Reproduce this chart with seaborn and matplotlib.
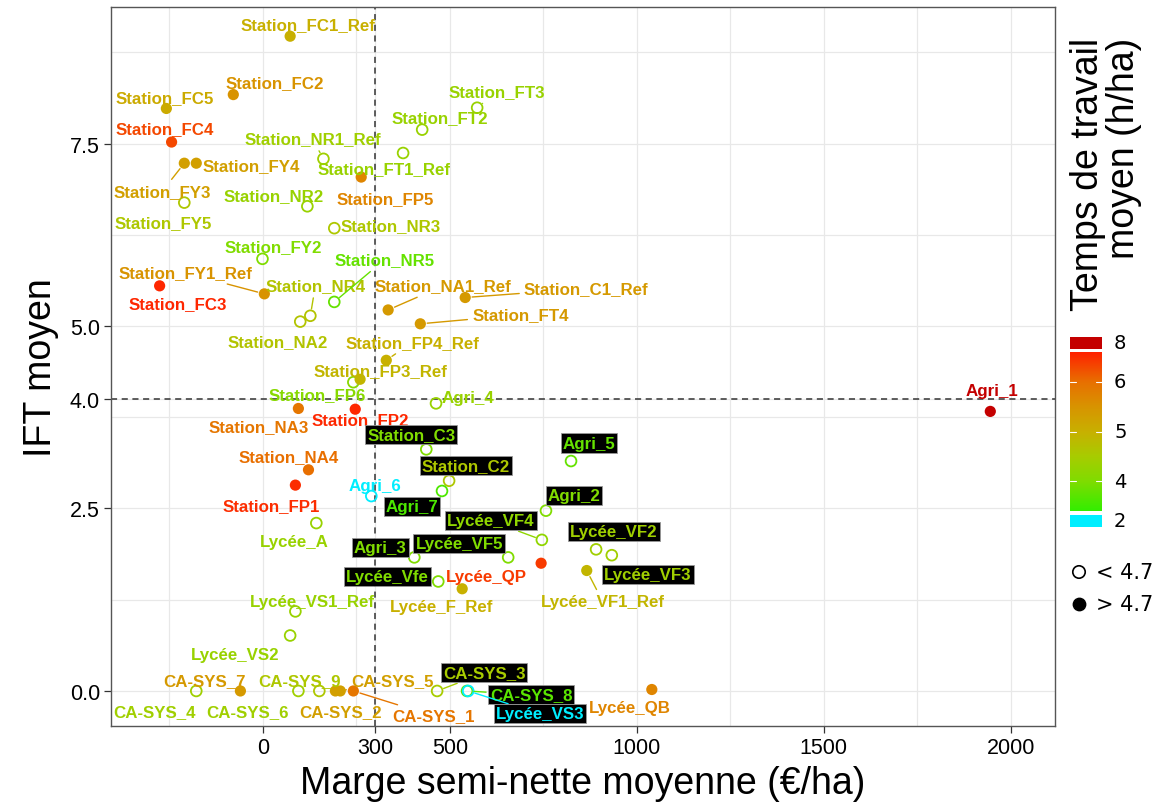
import numpy as np
import pandas as pd
import matplotlib
matplotlib.use("Agg")
import matplotlib.pyplot as plt
import seaborn as sns
from matplotlib.colors import LinearSegmentedColormap, Normalize
from matplotlib.patches import Rectangle

# ---------------- data ----------------
names = ["Station_FC1_Ref", "Station_FC2", "Station_FC5", "Station_FC4", "Station_FY3",
         "Station_FY4", "Station_NR1_Ref", "Station_FT1_Ref", "Station_FT2", "Station_FT3",
         "Station_FP5", "Station_FY5", "Station_NR2", "Station_NR3", "Station_FY2",
         "Station_FY1_Ref", "Station_FC3", "Station_NR4", "Station_NA2", "Station_NR5",
         "Station_NA1_Ref", "Station_C1_Ref", "Station_FT4", "Station_FP4_Ref", "Station_FP3_Ref",
         "Station_FP6", "Agri_4", "Station_NA3", "Station_FP2", "Station_C3",
         "Station_NA4", "Station_C2", "Station_FP1", "Agri_6", "Agri_7",
         "Lycée_A", "Lycée_VF4", "Agri_2", "Agri_5", "Lycée_VF2",
         "Lycée_VF3", "Lycée_VF1_Ref", "Lycée_QP", "Agri_3", "Lycée_VF5",
         "Lycée_Vfe", "Lycée_F_Ref", "Lycée_VS1_Ref", "Lycée_VS2", "CA-SYS_4",
         "CA-SYS_7", "CA-SYS_6", "CA-SYS_9", "CA-SYS_2", "CA-SYS_5",
         "CA-SYS_1", "CA-SYS_3", "CA-SYS_8", "Lycée_VS3", "Lycée_QB",
         "Agri_1"]
marge = [73, -79, -258, -244, -210,
         -178, 162, 375, 426, 573,
         263, -210, 119, 191, -1,
         4, -276, 127, 100, 191,
         335, 541, 421, 330, 260,
         242, 463, 95, 247, 437,
         122, 498, 87, 290, 479,
         143, 746, 757, 824, 891,
         933, 866, 744, 405, 656,
         469, 533, 87, 73, -178,
         -60, 95, 151, 194, 207,
         242, 466, 546, 549, 1040,
         1945]
ift = [8.97, 8.17, 7.98, 7.52, 7.23,
       7.23, 7.29, 7.37, 7.69, 7.99,
       7.04, 6.69, 6.64, 6.34, 5.92,
       5.44, 5.55, 5.14, 5.06, 5.33,
       5.22, 5.39, 5.03, 4.53, 4.27,
       4.23, 3.94, 3.87, 3.86, 3.31,
       3.03, 2.88, 2.82, 2.67, 2.74,
       2.30, 2.07, 2.47, 3.15, 1.94,
       1.86, 1.65, 1.75, 1.83, 1.83,
       1.50, 1.40, 1.09, 0.76, 0.0,
       0.0, 0.0, 0.0, 0.0, 0.0,
       0.0, 0.0, 0.0, 0.0, 0.02,
       3.83]
temps = [5.0, 5.5, 5.1, 6.3, 5.3,
         5.3, 4.4, 4.3, 4.3, 4.3,
         5.7, 4.6, 4.3, 4.6, 4.0,
         5.5, 6.55, 4.65, 4.65, 3.8,
         5.4, 5.4, 5.4, 5.0, 4.9,
         4.1, 4.3, 5.9, 6.55, 4.0,
         6.0, 4.6, 6.5, 2.0, 3.6,
         4.3, 4.2, 4.0, 3.8, 4.4,
         4.4, 4.9, 6.4, 4.0, 4.0,
         4.0, 5.0, 4.3, 4.3, 4.4,
         5.4, 4.4, 4.6, 5.3, 5.3,
         5.9, 4.5, 3.7, 2.0, 5.7,
         8.0]
seuil_temps = 4.7
seuil_marge = 300
seuil_ift = 4.0
x_ticks = [0, 300, 500, 1000, 1500, 2000]
y_ticks = [0.0, 2.5, 4.0, 5.0, 7.5]
cbar_ticks = [4, 5, 6]

# ---------------- label layout (pixel offsets from point) ----------------
label_offsets = {
    "Station_FC1_Ref": (18, 12), "Station_FC2": (41, 12), "Station_FC5": (-2, 11),
    "Station_FC4": (-7, 13), "Station_FY3": (-22, -28), "Station_FY4": (55, -2),
    "Station_NR1_Ref": (-11, 20), "Station_FT1_Ref": (-19, -16), "Station_FT2": (18, 12),
    "Station_FT3": (20, 16), "Station_FP5": (24, -21), "Station_FY5": (-21, -20),
    "Station_NR2": (-34, 11), "Station_NR3": (56, 3), "Station_FY2": (11, 12),
    "Station_FY1_Ref": (-79, 21), "Station_FC3": (18, -18), "Station_NR4": (5, 30),
    "Station_NA2": (-23, -20), "Station_NR5": (50, 42), "Station_NA1_Ref": (55, 24),
    "Station_C1_Ref": (121, 9), "Station_FT4": (100, 9), "Station_FP4_Ref": (26, 18),
    "Station_FP3_Ref": (20, 9), "Station_FP6": (-36, -12), "Agri_4": (32, 6),
    "Station_NA3": (-40, -18), "Station_FP2": (5, -10), "Station_C3": (-15, 15),
    "Station_NA4": (-20, 13), "Station_C2": (17, 15), "Station_FP1": (-24, -20),
    "Agri_6": (4, 11), "Agri_7": (-30, -16), "Lycée_A": (-22, -18),
    "Lycée_VF4": (-51, 19), "Agri_2": (28, 15), "Agri_5": (18, 18),
    "Lycée_VF2": (18, 18), "Lycée_VF3": (36, -19), "Lycée_VF1_Ref": (16, -31),
    "Lycée_QP": (-55, -13), "Agri_3": (-34, 10), "Lycée_VF5": (-49, 14),
    "Lycée_Vfe": (-51, 5), "Lycée_F_Ref": (-21, -18), "Lycée_VS1_Ref": (17, 10),
    "Lycée_VS2": (-55, -19), "CA-SYS_4": (-42, -21), "CA-SYS_7": (-36, 10),
    "CA-SYS_6": (-51, -21), "CA-SYS_9": (-20, 10), "CA-SYS_2": (5, -21),
    "CA-SYS_5": (52, 10), "CA-SYS_1": (80, -25), "CA-SYS_3": (47, 18),
    "CA-SYS_8": (64, -4), "Lycée_VS3": (72, -23), "Lycée_QB": (-22, -18),
    "Agri_1": (2, 21),
}
boxed = {"Station_C3", "Station_C2", "Agri_5", "Agri_7", "Agri_2", "Lycée_VF4",
         "Lycée_VF2", "Agri_3", "Lycée_VF5", "Lycée_Vfe", "Lycée_VF3", "CA-SYS_3",
         "CA-SYS_8", "Lycée_VS3"}
leader = {"Station_FY3", "Station_NR1_Ref", "Station_FT3", "Station_FY1_Ref", "Station_NR4",
          "Station_NR5", "Station_NA1_Ref", "Station_C1_Ref", "Station_FT4",
          "Station_FP4_Ref", "Lycée_VF4", "Lycée_VF1_Ref", "CA-SYS_5", "CA-SYS_1",
          "CA-SYS_3", "CA-SYS_8", "Lycée_VS3"}

# ---------------- style ----------------
sns.set_theme(style="white")
plt.rcParams['font.family'] = ['Liberation Sans', 'DejaVu Sans']
plt.rcParams['text.color'] = 'black'
plt.rcParams['axes.labelcolor'] = 'black'

W, H = 1164, 812
fig = plt.figure(figsize=(W / 100, H / 100), dpi=100)
fig.patch.set_facecolor("white")
ax = fig.add_axes([111 / W, 1 - 727 / H, (1055 - 111) / W, (727 - 8) / H])

cmap = LinearSegmentedColormap.from_list("tt", [
    (0.0, "#33ee00"), (0.1875, "#80dc00"), (0.344, "#a8cc00"), (0.5, "#c8b000"),
    (0.656, "#d89400"), (0.8125, "#e87000"), (1.0, "#ff2200")])
cmap.set_over("#c40000")
cmap.set_under("#00eeff")
norm = Normalize(3.4, 6.6)

df = pd.DataFrame(dict(name=names, marge=marge, ift=ift, temps=temps))
df["filled"] = df["temps"] > seuil_temps

# grid & reference lines
ax.set_xlim(-406, 2118)
ax.set_ylim(-0.48, 9.37)
ax.set_xticks(x_ticks)
ax.set_xticklabels([str(v) for v in x_ticks])
ax.set_yticks(y_ticks)
ax.set_yticklabels([f"{v:.1f}" for v in y_ticks])
ax.set_xticks([-250, 250, 750, 1250, 1750], minor=True)
ax.set_yticks([1.25, 3.75, 6.25, 8.75], minor=True)
ax.grid(True, which="both", color="#e8e8e8", lw=0.9, zorder=0)
ax.set_axisbelow(True)
ax.tick_params(which="minor", length=0)
ax.tick_params(which="major", length=5, width=0.9, color="#333333", labelsize=15.5,
               labelcolor="black", pad=3, bottom=True, left=True)
for s in ax.spines.values():
    s.set_color("#555555")
    s.set_linewidth(1.0)

ax.axvline(seuil_marge, ls=(0, (4, 3)), color="#333333", lw=1.1, zorder=1)
ax.axhline(seuil_ift, ls=(0, (4, 3)), color="#333333", lw=1.1, zorder=1)

# open points
open_df = df[~df["filled"]]
sns.scatterplot(data=open_df, x="marge", y="ift", hue="temps", palette=cmap,
                hue_norm=norm, s=60, legend=False, ax=ax, zorder=3)
coll = ax.collections[-1]
fcs = coll.get_facecolors()
coll.set_edgecolors(fcs)
coll.set_facecolors("none")
coll.set_linewidth(1.3)

# filled points
fill_df = df[df["filled"]]
sns.scatterplot(data=fill_df, x="marge", y="ift", hue="temps", palette=cmap,
                hue_norm=norm, s=65, legend=False, ax=ax, zorder=4, linewidth=0)

# labels
for _, r in df.iterrows():
    col = cmap(norm(r["temps"]))
    dx, dy = label_offsets[r["name"]]
    kw = {}
    if r["name"] in boxed:
        kw["bbox"] = dict(boxstyle="square,pad=0.12", fc="black", ec="#999999", lw=0.6)
    if r["name"] in leader:
        kw["arrowprops"] = dict(arrowstyle="-", color=col, lw=1.0, shrinkA=1, shrinkB=5)
    ax.annotate(r["name"], (r["marge"], r["ift"]), xytext=(dx, dy),
                textcoords="offset pixels", ha="center", va="center",
                fontsize=12.2, fontweight="bold", color=col, zorder=5, **kw)

ax.set_xlabel("Marge semi-nette moyenne (€/ha)", fontsize=27, labelpad=5, color="black")
ax.set_ylabel("IFT moyen", fontsize=27, labelpad=8, color="black")

# ---------------- legend (drawn in pixel space) ----------------
lax = fig.add_axes([0, 0, 1, 1])
lax.set_axis_off()
lax.patch.set_alpha(0)
lax.set_xlim(0, W)
lax.set_ylim(H, 0)

lax.text(1106, 38, "Temps de travail\nmoyen (h/ha)", rotation=90, ha="center", va="top",
         multialignment="right", fontsize=27, linespacing=1.0, color="black")

cb_left, cb_right, cb_top, cb_bot = 1070, 1102, 353, 512
grad = np.linspace(norm.vmax, norm.vmin, 256)[:, None]
lax.imshow(grad, cmap=cmap, norm=norm, extent=[cb_left, cb_right, cb_bot, cb_top],
           aspect="auto", origin="upper", zorder=2)
for v in cbar_ticks:
    yy = cb_bot - (v - norm.vmin) / (norm.vmax - norm.vmin) * (cb_bot - cb_top)
    lax.plot([cb_left, cb_left + 6], [yy, yy], color="white", lw=0.8, zorder=3)
    lax.plot([cb_right - 6, cb_right], [yy, yy], color="white", lw=0.8, zorder=3)
    lax.text(1114, yy, str(v), ha="left", va="center", fontsize=14, family="DejaVu Sans",
             color="black")
lax.add_patch(Rectangle((cb_left, 338), cb_right - cb_left, 12, fc=cmap(1.5), ec="none"))
lax.text(1114, 344, "8", ha="left", va="center", fontsize=14, family="DejaVu Sans", color="black")
lax.add_patch(Rectangle((cb_left, 516), cb_right - cb_left, 12, fc=cmap(-0.5), ec="none"))
lax.text(1114, 522, "2", ha="left", va="center", fontsize=14, family="DejaVu Sans", color="black")

lax.scatter([1079], [573], s=80, facecolors="none", edgecolors="black", linewidths=1.2)
lax.scatter([1079], [605], s=80, facecolors="black", edgecolors="black")
lax.text(1096, 573, "< 4.7", ha="left", va="center", fontsize=15, family="DejaVu Sans", color="black")
lax.text(1096, 605, "> 4.7", ha="left", va="center", fontsize=15, family="DejaVu Sans", color="black")
lax.set_xlim(0, W)
lax.set_ylim(H, 0)

fig.savefig("out.png", dpi=100)
